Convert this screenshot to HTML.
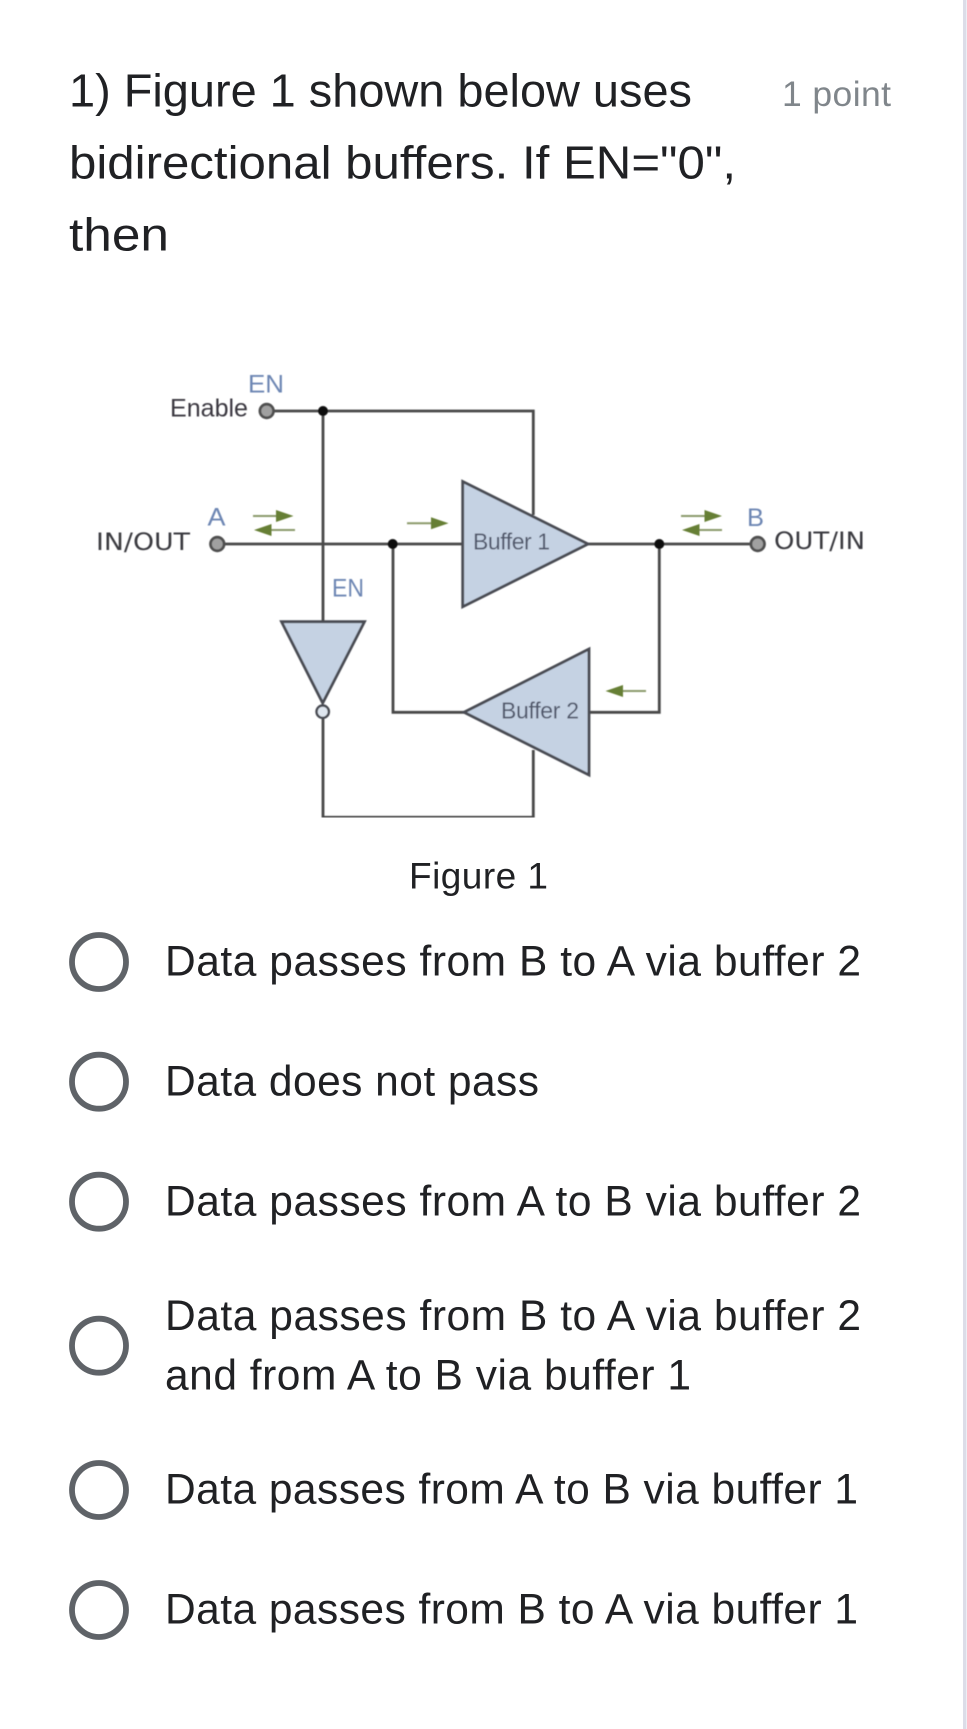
<!DOCTYPE html>
<html>
<head>
<meta charset="utf-8">
<style>
html,body{margin:0;padding:0;background:#fff;width:967px;height:1729px;overflow:hidden}
svg{display:block}
text{font-family:"Liberation Sans",sans-serif}
.q{font-size:46px;fill:#202124}
.o{font-size:42.5px;fill:#202124}
.r{fill:none;stroke:#5f6368;stroke-width:5.8}
.w{fill:none;stroke:#484848;stroke-width:2.8}
.g{fill:#c5d2e3;stroke:#484b52;stroke-width:2.8;stroke-linejoin:miter}
.dot{fill:#a0a0a0;stroke:#505050;stroke-width:2.8}
.j{fill:#0a0a0a}
.ln{stroke:#8b9a6b;stroke-width:2}
.ah{fill:#667f34}
.bl{font-size:25px;fill:#6d86b3}
.dk{font-family:"DejaVu Sans",sans-serif;font-size:24px;fill:#3a3a40}
.bf{font-size:23px;fill:#4f566a}
</style>
</head>
<body>
<svg width="967" height="1729" viewBox="0 0 967 1729" xmlns="http://www.w3.org/2000/svg">
<defs><filter id="soft" x="0" y="0" width="100%" height="100%"><feGaussianBlur stdDeviation="0.45"/></filter></defs>
<rect width="967" height="1729" fill="#fff"/>
<rect x="963" y="0" width="3.5" height="1729" fill="#dcdde8"/>

<text class="q" x="69" y="106.5" textLength="623" lengthAdjust="spacingAndGlyphs">1) Figure 1 shown below uses</text>
<text class="q" x="69" y="178.5" textLength="667" lengthAdjust="spacingAndGlyphs">bidirectional buffers. If EN="0",</text>
<text class="q" x="69" y="250.5" textLength="100" lengthAdjust="spacingAndGlyphs">then</text>
<text x="782" y="106" font-size="35.5" fill="#80868b" textLength="109">1 point</text>

<g filter="url(#soft)">
<!-- wires -->
<path class="w" d="M273 411H533.3V515M323 411V622M223 544H463M393 544V712.3H464M588 544H752M659.3 544V712.3H589M323 718V817.3H533.3V750"/>

<!-- gates -->
<polygon class="g" points="462.7,481.5 588,544 462.7,606.7"/>
<polygon class="g" points="589,649 464,712.3 589,775"/>
<polygon class="g" points="281.5,621.7 364.5,621.7 322.7,703"/>
<circle cx="322.7" cy="711.7" r="6.2" fill="#dfe6ef" stroke="#484b52" stroke-width="2.4"/>

<!-- terminals -->
<circle class="dot" cx="266.7" cy="411" r="6.8"/>
<circle class="dot" cx="217.3" cy="544" r="6.8"/>
<circle class="dot" cx="757.7" cy="544" r="6.8"/>
<circle class="j" cx="323" cy="411" r="5"/>
<circle class="j" cx="392.7" cy="544" r="5"/>
<circle class="j" cx="659.3" cy="544" r="5"/>

<!-- arrows -->
<path class="ln" d="M253 516H280M268 530H295M407 523.3H435M681 516H708M696 530H722M619 691H646"/>
<path class="ah" d="M293.5 516L276 510V522ZM254 530L271.5 524V536ZM448.5 523.3L431 517.3V529.3ZM722 516L704.5 510V522ZM682 530L699.5 524V536ZM605.5 691L623 685V697Z"/>

<!-- diagram labels -->
<text class="bl" x="248" y="392.5" textLength="36" lengthAdjust="spacingAndGlyphs">EN</text>
<text x="170" y="416.5" font-size="25" fill="#3a3740" textLength="78" lengthAdjust="spacingAndGlyphs">Enable</text>
<text class="dk" x="96" y="550" textLength="94" lengthAdjust="spacingAndGlyphs">IN/OUT</text>
<text class="bl" x="207.5" y="525.7" textLength="18" lengthAdjust="spacingAndGlyphs">A</text>
<text class="bl" x="332" y="596.7" font-size="23" textLength="32" lengthAdjust="spacingAndGlyphs">EN</text>
<text class="bl" x="747" y="526" textLength="17" lengthAdjust="spacingAndGlyphs">B</text>
<text class="dk" x="774" y="549" textLength="91" lengthAdjust="spacingAndGlyphs">OUT/IN</text>
<text class="bf" x="473" y="549.3" textLength="77">Buffer 1</text>
<text class="bf" x="501" y="718.7" textLength="78">Buffer 2</text>
</g>
<text x="409" y="888.3" font-size="37" fill="#202124" textLength="139">Figure 1</text>

<!-- options -->
<circle class="r" cx="99" cy="962" r="27"/>
<text class="o" x="165" y="975.7" textLength="696">Data passes from B to A via buffer 2</text>
<circle class="r" cx="99" cy="1081.7" r="27"/>
<text class="o" x="165" y="1095.5" textLength="374">Data does not pass</text>
<circle class="r" cx="99" cy="1201.7" r="27"/>
<text class="o" x="165" y="1215.7" textLength="696">Data passes from A to B via buffer 2</text>
<circle class="r" cx="99" cy="1345.7" r="27"/>
<text class="o" x="165" y="1330" textLength="696">Data passes from B to A via buffer 2</text>
<text class="o" x="165" y="1389.3" textLength="526">and from A to B via buffer 1</text>
<circle class="r" cx="99" cy="1490" r="27"/>
<text class="o" x="165" y="1503.5" textLength="693">Data passes from A to B via buffer 1</text>
<circle class="r" cx="99" cy="1610" r="27"/>
<text class="o" x="165" y="1623.5" textLength="693">Data passes from B to A via buffer 1</text>
</svg>
</body>
</html>
